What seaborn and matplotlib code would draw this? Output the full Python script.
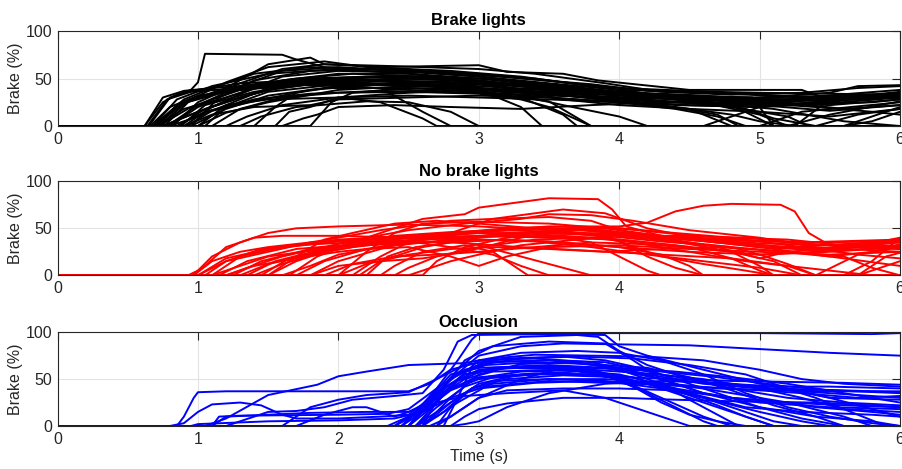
import numpy as np
import pandas as pd
import matplotlib
matplotlib.use("Agg")
import matplotlib.pyplot as plt
import seaborn as sns

# Brake traces per condition, each one a list of (time s, brake %) breakpoints
brake_lights = [
    [(0,0),(0.62,0),(0.75,25),(0.85,33),(1.0,38),(1.3,45),(2.0,50),(2.5,45),(3.0,40),(3.5,35),(4.0,30),(5.0,28),(6.0,30)],
    [(0,0),(0.65,0),(0.8,30),(0.95,38),(1.0,46),(1.05,76),(1.6,75),(1.7,70),(1.9,62),(2.5,58),(3.0,52),(3.5,45),(4.0,38),(5.0,35),(6,33)],
    [(0,0),(0.7,0),(0.9,25),(1.2,40),(1.5,65),(1.8,72),(1.9,65),(2.3,62),(3.0,64),(3.2,57),(3.6,55),(3.85,48),(4.5,38),(5.3,38),(5.45,30),(6,32)],
    [(0,0),(0.68,0),(0.85,28),(1.1,42),(1.5,55),(2.0,60),(2.5,55),(3.0,50),(3.5,42),(4.0,36),(4.5,30),(5.0,22),(5.5,25),(6,35)],
    [(0,0),(0.72,0),(0.95,20),(1.3,38),(1.8,48),(2.4,52),(3.0,48),(3.5,40),(4.2,32),(5.0,30),(5.5,35),(5.7,42),(6,43)],
    [(0,0),(0.75,0),(1.0,15),(1.3,30),(1.6,42),(2.0,45),(2.8,42),(3.3,30),(3.6,12),(3.7,0),(6,0)],
    [(0,0),(0.8,0),(1.0,10),(1.2,22),(1.5,28),(2.0,30),(2.3,25),(2.6,8),(2.7,0),(6,0)],
    [(0,0),(0.9,0),(1.1,12),(1.4,20),(1.8,22),(2.0,28),(2.5,30),(3.0,32),(3.5,30),(4.0,25),(4.5,18),(4.8,0),(5.0,0),(5.3,15),(6,25)],
    [(0,0),(1.4,0),(1.55,20),(1.7,35),(2.0,42),(2.5,45),(3.0,42),(3.5,38),(4.0,32),(4.5,28),(5.0,12),(5.2,0),(6,0)],
    [(0,0),(1.55,0),(1.65,15),(1.8,20),(2.0,30),(2.5,35),(3.0,38),(3.5,33),(4.0,28),(4.5,25),(5.0,25),(5.5,22),(6,28)],
    [(0,0),(1.8,0),(1.95,25),(2.1,35),(2.5,40),(3.0,36),(3.5,30),(4.0,25),(4.5,22),(5.0,20),(5.5,24),(6,30)],
    [(0,0),(0.66,0),(0.8,20),(1.0,32),(1.3,38),(1.8,44),(2.3,40),(2.6,15),(2.8,0),(6,0)],
    [(0,0),(0.7,0),(0.9,18),(1.2,30),(1.6,48),(2.0,55),(2.5,55),(2.8,50),(3.2,45),(3.8,38),(4.0,30),(4.4,22),(5.0,20),(5.4,25),(6,35)],
    [(0,0),(0.75,0),(0.95,12),(1.2,26),(1.5,38),(2.0,48),(2.6,50),(3.0,47),(3.3,38),(3.6,28),(4.0,22),(4.5,18),(5.0,15),(5.5,10),(6,18)],
    [(0,0),(0.8,0),(1.0,20),(1.3,35),(1.6,52),(2.0,58),(2.6,56),(3.0,52),(3.4,45),(4.0,35),(4.6,30),(5.2,28),(5.6,30),(6,36)],
    [(0,0),(0.85,0),(1.05,15),(1.4,28),(1.8,34),(2.3,37),(3.0,35),(3.5,26),(3.8,0),(6,0)],
    [(0,0),(0.9,0),(1.1,20),(1.4,40),(1.8,50),(2.2,52),(2.8,48),(3.2,40),(3.8,35),(4.3,30),(4.8,22),(5.1,0),(5.4,0),(5.7,12),(6,18)],
    [(0,0),(1.0,0),(1.2,14),(1.5,25),(2.0,38),(2.5,42),(3.0,40),(3.5,36),(4.0,32),(4.5,30),(4.9,18),(5.1,8),(5.4,0),(6,0)],
    [(0,0),(1.1,0),(1.3,18),(1.6,30),(2.0,35),(2.5,36),(3.0,34),(3.3,28),(3.5,20),(3.8,0),(6,0)],
    [(0,0),(0.68,0),(0.9,28),(1.1,40),(1.4,55),(1.8,62),(2.2,60),(2.8,55),(3.2,52),(3.6,46),(4.0,40),(4.5,37),(5.0,33),(5.5,30),(6,33)],
    [(0,0),(0.78,0),(1.0,22),(1.3,42),(1.6,58),(2.0,62),(2.4,58),(2.9,55),(3.3,50),(3.8,44),(4.2,37),(4.8,34),(5.3,30),(6,38)],
    [(0,0),(0.95,0),(1.2,18),(1.5,32),(1.9,40),(2.5,40),(3.1,38),(3.6,33),(4.0,25),(4.4,18),(4.7,10),(4.9,0),(6,0)],
    [(0,0),(1.2,0),(1.35,10),(1.6,22),(2.0,30),(2.5,32),(3.0,30),(3.5,28),(4.0,25),(4.5,25),(5.0,30),(5.6,32),(6,34)],
    [(0,0),(0.72,0),(0.92,25),(1.2,36),(1.5,45),(2.0,48),(2.8,46),(3.5,40),(4.0,34),(4.6,25),(5.1,18),(5.6,5),(6,0)],
    [(0,0),(0.86,0),(1.05,18),(1.35,32),(1.7,45),(2.1,48),(2.7,47),(3.2,43),(3.7,38),(4.2,30),(4.7,24),(5.2,22),(5.8,25),(6,28)],
    [(0,0),(1.3,0),(1.45,10),(1.7,20),(2.2,26),(2.5,25),(2.8,15),(3.0,0),(6,0)],
    [(0,0),(0.82,0),(1.0,25),(1.3,45),(1.6,60),(1.9,65),(2.4,63),(3.0,60),(3.4,55),(3.9,45),(4.3,36),(4.8,33),(5.3,35),(5.7,40),(6,42)],
    [(0,0),(0.92,0),(1.1,16),(1.4,26),(1.8,38),(2.3,44),(3.0,44),(3.4,35),(3.9,28),(4.4,20),(4.8,12),(5.0,5),(5.25,0),(5.6,0),(5.8,5),(6,15)],
    [(0,0),(1.0,0),(1.2,22),(1.5,40),(1.9,50),(2.4,53),(3.0,50),(3.5,44),(4.0,36),(4.6,32),(5.1,26),(5.6,18),(6,22)],
    [(0,0),(0.7,0),(0.85,20),(1.0,30),(1.3,42),(1.7,50),(2.1,55),(2.6,52),(3.1,46),(3.6,40),(4.1,34),(4.6,28),(5.2,26),(5.8,28),(6,32)],
    [(0,0),(0.76,0),(0.95,28),(1.2,46),(1.5,62),(1.9,68),(2.2,62),(2.8,58),(3.3,52),(3.8,42),(4.4,30),(5.0,24),(5.4,20),(5.8,15),(6,12)],
    [(0,0),(1.6,0),(1.75,8),(1.85,12),(2.0,20),(2.4,22),(2.8,20),(3.3,18),(3.8,22),(4.3,25),(5.0,22),(5.5,16),(6,22)],
    [(0,0),(0.62,0),(0.75,30),(0.9,37),(1.1,40),(1.5,44),(2.0,42),(2.5,38),(3.0,35),(3.5,32),(4.0,30),(4.5,28),(5.0,26),(5.5,28),(6,30)],
    [(0,0),(0.95,0),(1.15,30),(1.4,48),(1.8,58),(2.3,60),(2.9,56),(3.4,50),(3.9,40),(4.3,32),(4.8,22),(5.3,24),(6,34)],
    [(0,0),(0.64,0),(0.78,28),(0.95,36),(1.3,40),(2.0,46),(2.6,44),(3.0,38),(3.3,20),(3.45,0),(6,0)],
    [(0,0),(0.7,0),(0.85,22),(1.1,34),(1.6,44),(2.2,48),(2.8,45),(3.2,35),(3.6,22),(4.0,10),(4.2,0),(4.6,0),(5.0,20),(5.4,30),(6,32)],
    [(0,0),(0.74,0),(0.9,24),(1.2,38),(1.8,50),(2.5,52),(3.0,46),(3.6,38),(4.0,34),(4.5,32),(4.95,30),(5.1,0),(5.25,0),(5.5,28),(6,30)],
    [(0,0),(1.05,0),(1.2,20),(1.5,36),(2.0,44),(2.6,42),(3.2,36),(3.8,30),(4.2,28),(4.8,20),(5.2,10),(5.35,0),(5.6,0),(5.8,10),(6,20)],
    [(0,0),(0.88,0),(1.05,22),(1.4,36),(1.9,46),(2.4,50),(3.0,48),(3.4,40),(3.9,30),(4.3,22),(4.7,12),(4.85,0),(5.2,0),(5.5,12),(6,26)],
]

no_brake_lights = [
    [(0,0),(0.93,0),(1.0,5),(1.1,20),(1.3,35),(1.5,45),(1.7,50),(2.0,52),(2.5,54),(3.0,52),(3.5,48),(4.0,42),(4.5,38),(5.0,30),(5.5,28),(6,35)],
    [(0,0),(0.95,0),(1.05,10),(1.2,30),(1.4,40),(1.6,42),(2.0,42),(2.5,40),(3.0,38),(3.5,36),(4.0,30),(4.5,25),(5.0,22),(5.5,25),(6,30)],
    [(0,0),(1.0,0),(1.2,15),(1.5,25),(1.8,35),(2.0,40),(2.3,48),(2.5,52),(2.8,58),(3.1,60),(3.5,62),(3.8,58),(4.0,48),(4.3,40),(4.8,37),(5.3,35),(6,38)],
    [(0,0),(1.2,0),(1.35,8),(1.6,20),(1.9,30),(2.2,40),(2.5,48),(2.9,55),(3.3,60),(3.5,65),(3.8,64),(4.1,58),(4.5,48),(5.0,40),(5.4,30),(6,25)],
    [(0,0),(1.1,0),(1.3,10),(1.5,20),(2.0,30),(2.4,38),(2.8,45),(3.1,60),(3.4,66),(3.6,70),(3.9,66),(4.2,50),(4.6,38),(5.0,30),(5.5,20),(6,10)],
    [(0,0),(1.5,0),(1.7,15),(2.0,30),(2.3,45),(2.6,60),(2.9,65),(3.0,72),(3.3,78),(3.5,82),(3.85,81),(3.95,70),(4.05,52),(4.3,42),(4.8,38),(5.3,35),(6,36)],
    [(0,0),(2.1,0),(2.3,20),(2.5,35),(2.8,45),(3.2,50),(3.6,52),(4.0,52),(4.2,56),(4.4,68),(4.6,74),(4.8,76),(5.15,75),(5.25,68),(5.35,45),(5.5,32),(6,30)],
    [(0,0),(1.3,0),(1.5,12),(1.8,22),(2.1,30),(2.4,35),(2.8,40),(3.2,42),(3.6,42),(4.0,38),(4.4,32),(4.8,25),(5.1,15),(5.3,0),(6,0)],
    [(0,0),(1.6,0),(1.8,10),(2.0,22),(2.3,30),(2.8,38),(3.2,45),(3.7,48),(4.0,45),(4.4,40),(4.8,35),(5.2,30),(5.6,28),(6,40)],
    [(0,0),(1.8,0),(2.0,15),(2.3,28),(2.6,40),(3.0,45),(3.5,42),(3.8,35),(4.0,20),(4.2,5),(4.3,0),(6,0)],
    [(0,0),(2.6,0),(2.7,15),(2.9,30),(3.2,40),(3.5,44),(3.9,45),(4.3,40),(4.7,35),(5.0,30),(5.5,26),(6,30)],
    [(0,0),(2.3,0),(2.4,10),(2.6,25),(2.9,32),(3.1,25),(3.2,15),(3.35,0),(6,0)],
    [(0,0),(1.0,0),(1.2,18),(1.5,28),(2.0,36),(2.5,40),(3.0,42),(3.5,40),(4.0,38),(4.5,30),(4.8,18),(5.0,5),(5.1,0),(6,0)],
    [(0,0),(1.4,0),(1.6,12),(1.9,25),(2.3,35),(2.7,40),(3.0,32),(3.3,20),(3.6,8),(3.8,0),(6,0)],
    [(0,0),(1.7,0),(1.9,15),(2.2,28),(2.6,38),(3.0,42),(3.4,45),(3.9,44),(4.3,38),(4.8,30),(5.2,25),(5.6,20),(5.8,8),(6,0)],
    [(0,0),(1.9,0),(2.1,12),(2.4,20),(2.7,22),(3.0,25),(3.4,30),(3.8,35),(4.2,33),(4.6,28),(5.0,22),(5.4,25),(5.8,33),(6,38)],
    [(0,0),(1.2,0),(1.4,10),(1.7,18),(2.0,25),(2.2,28),(2.5,30),(2.8,20),(3.0,10),(3.2,20),(3.5,30),(4.0,32),(4.5,28),(5.0,25),(5.5,22),(6,25)],
    [(0,0),(2.0,0),(2.2,25),(2.4,45),(2.6,55),(3.0,57),(3.5,55),(3.9,50),(4.2,44),(4.7,35),(5.2,30),(5.7,34),(6,38)],
    [(0,0),(0.97,0),(1.1,15),(1.3,25),(1.5,30),(1.8,35),(2.2,38),(2.5,36),(2.8,30),(3.1,22),(3.3,10),(3.5,0),(6,0)],
    [(0,0),(1.5,0),(1.7,20),(1.9,38),(2.1,45),(2.4,55),(2.7,58),(3.0,55),(3.4,50),(3.8,48),(4.1,44),(4.6,38),(5.0,34),(5.5,32),(6,35)],
    [(0,0),(2.4,0),(2.5,8),(2.7,20),(3.0,30),(3.4,38),(3.8,40),(4.1,35),(4.5,25),(4.9,15),(5.2,10),(5.5,5),(5.8,0),(6,0)],
    [(0,0),(1.1,0),(1.3,20),(1.6,30),(2.0,38),(2.5,42),(3.0,45),(3.5,45),(3.9,42),(4.3,36),(4.8,30),(5.0,22),(5.2,12),(5.4,0),(5.7,0),(6,15)],
    [(0,0),(1.25,0),(1.45,15),(1.8,28),(2.2,32),(2.6,35),(3.0,38),(3.4,36),(3.8,30),(4.2,22),(4.6,15),(5.0,8),(5.3,0),(6,0)],
    [(0,0),(1.8,0),(2.0,10),(2.3,15),(2.6,18),(2.9,25),(3.3,40),(3.7,50),(4.0,50),(4.4,45),(4.8,40),(5.2,38),(5.6,32),(6,28)],
    [(0,0),(2.2,0),(2.35,20),(2.55,30),(2.8,35),(3.2,38),(3.6,35),(4.0,30),(4.3,22),(4.5,10),(4.6,0),(6,0)],
    [(0,0),(1.35,0),(1.55,15),(1.9,28),(2.3,40),(2.7,44),(3.1,48),(3.5,52),(4.0,50),(4.4,44),(4.9,38),(5.3,30),(5.7,22),(6,18)],
    [(0,0),(1.05,0),(1.2,15),(1.45,28),(1.8,33),(2.3,36),(2.8,35),(3.3,30),(3.8,26),(4.3,22),(4.8,18),(5.2,10),(5.4,0),(5.7,0),(5.9,20),(6,24)],
    [(0,0),(2.5,0),(2.6,5),(2.8,15),(3.0,22),(3.3,32),(3.7,38),(4.0,42),(4.4,42),(4.9,40),(5.2,36),(5.6,30),(6,32)],
    [(0,0),(1.65,0),(1.85,20),(2.1,35),(2.4,42),(2.8,46),(3.2,48),(3.6,46),(3.95,40),(4.1,30),(4.3,20),(4.6,12),(4.9,5),(5.1,0),(6,0)],
    [(0,0),(2.0,0),(2.2,12),(2.5,22),(2.8,28),(3.1,30),(3.5,28),(3.9,25),(4.3,28),(4.7,30),(5.1,26),(5.5,20),(5.8,25),(6,33)],
    [(0,0),(1.15,0),(1.35,15),(1.7,28),(2.2,34),(2.8,40),(3.3,42),(3.8,40),(4.0,42),(4.4,36),(4.8,25),(5.0,10),(5.1,0),(5.4,0),(5.7,22),(6,30)],
    [(0,0),(1.45,0),(1.65,18),(2.0,30),(2.5,40),(3.0,46),(3.5,50),(3.9,48),(4.3,40),(4.7,30),(5.0,18),(5.2,25),(5.6,30),(6,28)],
    [(0,0),(2.15,0),(2.3,15),(2.6,30),(3.0,40),(3.4,46),(3.8,44),(4.0,36),(4.2,20),(4.4,8),(4.6,0),(5.6,0),(5.8,15),(6,40)],
]

occlusion = [
    [(0,0),(0.85,0),(0.9,10),(0.97,30),(1.0,36),(1.2,37),(2.0,37),(2.5,37),(2.65,45),(2.8,60),(3.0,68),(3.5,70),(4.0,62),(4.3,50),(4.6,35),(5.0,25),(5.5,20),(6,18)],
    [(0,0),(0.8,0),(0.9,3),(1.0,15),(1.1,23),(1.3,25),(1.45,22),(1.6,12),(1.7,8),(2.0,8),(2.3,10),(2.5,12),(2.7,35),(2.9,55),(3.2,62),(3.7,60),(4.0,50),(4.3,30),(4.6,10),(4.8,0),(6,0)],
    [(0,0),(1.05,0),(1.2,8),(1.5,33),(1.85,44),(2.0,53),(2.2,58),(2.5,65),(2.9,67),(3.0,70),(3.4,72),(3.8,68),(4.2,55),(4.6,45),(5.0,40),(5.5,35),(6,30)],
    [(0,0),(1.1,0),(1.2,10),(1.5,12),(1.8,14),(2.2,15),(2.5,15),(2.7,30),(2.9,50),(3.1,58),(3.6,60),(4.0,55),(4.4,40),(4.8,20),(5.1,5),(5.3,0),(6,0)],
    [(0,0),(1.2,0),(1.5,15),(1.7,16),(1.9,20),(2.1,28),(2.4,32),(2.6,35),(2.75,60),(2.85,90),(2.95,97),(3.5,98),(3.9,97),(4.0,85),(4.2,75),(4.6,60),(5.0,45),(5.5,38),(6,35)],
    [(0,0),(1.6,0),(1.8,20),(2.0,28),(2.2,33),(2.5,36),(2.7,50),(2.9,65),(3.2,72),(3.6,74),(3.9,70),(4.2,60),(4.6,40),(5.0,20),(5.3,8),(5.6,0),(6,0)],
    [(0,0),(1.7,0),(1.9,12),(2.1,20),(2.2,20),(2.3,15),(2.4,10),(2.6,20),(2.8,40),(3.0,52),(3.4,56),(3.8,55),(4.1,48),(4.5,35),(4.9,20),(5.3,15),(5.8,12),(6,10)],
    [(0,0),(2.4,0),(2.55,15),(2.7,40),(2.85,70),(2.95,92),(3.0,99),(4.0,99),(5.0,99),(5.8,98),(6,99)],
    [(0,0),(2.4,0),(2.6,20),(2.8,50),(3.0,75),(3.3,85),(3.6,88),(4.0,87),(4.5,86),(5.0,82),(5.5,78),(6,75)],
    [(0,0),(2.5,0),(2.65,25),(2.8,50),(3.0,65),(3.3,72),(3.7,74),(4.1,72),(4.5,65),(4.9,55),(5.2,40),(5.5,30),(6,28)],
    [(0,0),(2.45,0),(2.6,20),(2.8,45),(3.0,60),(3.3,62),(3.7,62),(3.9,55),(4.2,35),(4.4,20),(4.6,5),(4.7,0),(6,0)],
    [(0,0),(2.5,0),(2.7,30),(2.9,55),(3.1,62),(3.5,65),(3.9,62),(4.3,50),(4.7,45),(5.1,42),(5.5,42),(6,40)],
    [(0,0),(2.55,0),(2.75,20),(2.95,40),(3.2,50),(3.6,54),(4.0,52),(4.4,50),(4.8,48),(5.2,47),(5.6,46),(6,44)],
    [(0,0),(2.6,0),(2.8,25),(3.0,45),(3.3,55),(3.7,58),(4.1,52),(4.4,38),(4.7,22),(4.9,10),(5.1,0),(6,0)],
    [(0,0),(2.6,0),(2.75,40),(2.9,70),(3.1,85),(3.5,90),(3.9,88),(4.1,70),(4.3,50),(4.6,35),(5.0,20),(5.4,10),(5.8,5),(6,0)],
    [(0,0),(2.5,0),(2.7,35),(2.85,60),(3.0,80),(3.3,95),(3.7,97),(3.85,95),(4.0,80),(4.2,65),(4.5,50),(4.8,40),(5.2,30),(5.6,25),(6,22)],
    [(0,0),(2.7,0),(2.85,15),(3.0,30),(3.2,38),(3.6,40),(4.0,40),(4.4,38),(4.8,30),(5.2,25),(5.6,22),(6,20)],
    [(0,0),(2.35,0),(2.5,10),(2.7,25),(2.9,32),(3.2,35),(3.6,38),(3.9,30),(4.2,15),(4.4,5),(4.5,0),(6,0)],
    [(0,0),(2.4,0),(2.55,12),(2.75,35),(2.95,50),(3.3,58),(3.8,60),(4.2,56),(4.6,50),(5.0,40),(5.3,30),(5.6,18),(6,15)],
    [(0,0),(2.65,0),(2.8,10),(2.9,20),(3.0,30),(3.3,50),(3.6,62),(4.0,62),(4.4,58),(4.8,52),(5.2,45),(5.6,35),(6,25)],
    [(0,0),(2.55,0),(2.7,20),(2.9,42),(3.1,52),(3.5,56),(3.9,54),(4.1,42),(4.3,25),(4.5,12),(4.7,5),(4.9,0),(6,0)],
    [(0,0),(2.75,0),(2.85,30),(2.95,62),(3.1,72),(3.4,76),(3.8,75),(4.2,74),(4.6,70),(5.0,60),(5.3,50),(5.6,45),(6,42)],
    [(0,0),(2.45,0),(2.65,30),(2.85,55),(3.05,65),(3.4,68),(3.8,66),(4.2,62),(4.5,52),(4.8,38),(5.1,22),(5.4,10),(5.6,0),(6,0)],
    [(0,0),(2.8,0),(2.9,10),(3.0,18),(3.2,24),(3.6,30),(4.0,30),(4.4,28),(4.9,26),(5.4,25),(5.8,22),(6,20)],
    [(0,0),(2.6,0),(2.8,30),(3.0,55),(3.3,66),(3.7,68),(4.0,60),(4.3,45),(4.5,28),(4.7,12),(4.85,0),(6,0)],
    [(0,0),(2.5,0),(2.65,18),(2.85,48),(3.05,60),(3.4,64),(3.8,62),(4.3,58),(4.7,52),(5.1,44),(5.4,30),(5.7,12),(5.9,0),(6,0)],
    [(0,0),(2.7,0),(2.8,20),(2.95,40),(3.1,48),(3.5,50),(3.9,50),(4.3,46),(4.7,40),(5.1,38),(5.5,37),(6,37)],
    [(0,0),(2.55,0),(2.7,25),(2.85,50),(3.0,70),(3.3,78),(3.7,80),(4.0,78),(4.3,70),(4.6,55),(4.9,35),(5.2,20),(5.5,10),(5.8,3),(6,0)],
    [(0,0),(2.45,0),(2.6,15),(2.8,38),(3.0,50),(3.4,55),(3.8,55),(4.1,48),(4.4,40),(4.8,30),(5.2,25),(5.6,10),(5.8,0),(6,0)],
    [(0,0),(0.95,0),(1.0,2),(1.5,5),(2.0,6),(2.4,8),(2.6,15),(2.8,30),(3.0,40),(3.4,46),(3.8,48),(4.2,46),(4.6,40),(5.0,30),(5.4,20),(5.8,15),(6,12)],
    [(0,0),(1.1,0),(1.15,10),(1.3,11),(2.0,12),(2.35,13),(2.5,18),(2.7,40),(2.9,60),(3.1,68),(3.5,70),(3.9,68),(4.3,55),(4.7,45),(5.1,40),(5.6,38),(6,36)],
    [(0,0),(2.8,0),(2.9,2),(3.0,5),(3.2,20),(3.5,35),(3.9,45),(4.3,48),(4.7,46),(5.1,42),(5.5,30),(5.8,18),(6,10)],
    [(0,0),(2.5,0),(2.65,30),(2.8,55),(3.0,62),(3.4,64),(3.8,60),(4.2,45),(4.5,30),(4.8,15),(5.0,5),(5.1,0),(6,0)],
    [(0,0),(2.6,0),(2.75,15),(2.9,35),(3.1,45),(3.5,50),(3.9,48),(4.3,40),(4.6,30),(5.0,15),(5.3,5),(5.5,0),(6,0)],
    [(0,0),(2.55,0),(2.7,10),(2.85,25),(3.05,42),(3.5,48),(3.9,46),(4.3,44),(4.8,40),(5.3,35),(5.7,30),(6,32)],
]

titles = ["Brake lights", "No brake lights", "Occlusion"]
colors = ["#000000", "#ff0000", "#0000ff"]


def to_frame(traces):
    rows = []
    for i, tr in enumerate(traces):
        for t, v in tr:
            rows.append({"trace": i, "time": t, "brake": v})
    return pd.DataFrame(rows)


sns.set_theme(style="whitegrid")
plt.rcParams["font.family"] = ["Liberation Sans", "DejaVu Sans"]
plt.rcParams.update({"font.size": 11.5})

fig = plt.figure(figsize=(9.02, 4.69), dpi=100)
# axes boxes in figure fraction (left, bottom, width, height)
boxes = [(0.0638, 0.7313, 0.934, 0.2026),
         (0.0638, 0.4130, 0.934, 0.2004),
         (0.0638, 0.0917, 0.934, 0.2000)]

edge = "#262626"
for k, data in enumerate([brake_lights, no_brake_lights, occlusion]):
    ax = fig.add_axes(boxes[k])
    df = to_frame(data)
    sns.lineplot(data=df, x="time", y="brake", units="trace", estimator=None,
                 color=colors[k], lw=1.4, ax=ax, legend=False, sort=False)
    ax.set_xlim(0, 6)
    ax.set_ylim(0, 100)
    ax.set_xticks(range(0, 7))
    ax.set_yticks([0, 50, 100])
    ax.grid(True, color="#e3e3e3", lw=0.8)
    ax.set_axisbelow(True)
    for s in ax.spines.values():
        s.set_visible(True)
        s.set_color(edge)
        s.set_linewidth(0.8)
    ax.tick_params(direction="in", length=5.5, width=0.8, color=edge,
                   labelsize=11.5, labelcolor=edge, top=True, right=True,
                   pad=4)
    ax.set_title(titles[k], fontsize=12, fontweight="bold", pad=4, color="black")
    ax.set_ylabel("Brake (%)", fontsize=11.5, color=edge, labelpad=2)
    ax.set_xlabel("Time (s)" if k == 2 else "", fontsize=11.5, color=edge, labelpad=2)

fig.savefig("out.png", dpi=100)
